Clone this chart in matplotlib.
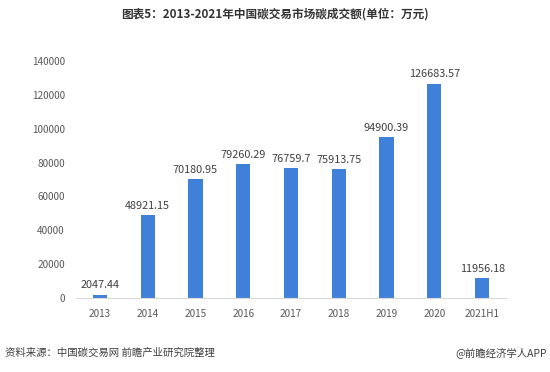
import matplotlib
matplotlib.use("Agg")
import matplotlib.pyplot as plt

plt.rcParams['font.family'] = ['Noto Sans CJK SC', 'DejaVu Sans']

categories = ["2013", "2014", "2015", "2016", "2017", "2018", "2019", "2020", "2021H1"]
values = [2047.44, 48921.15, 70180.95, 79260.29, 76759.7, 75913.75, 94900.39, 126683.57, 11956.18]
labels = ["2047.44", "48921.15", "70180.95", "79260.29", "76759.7", "75913.75", "94900.39", "126683.57", "11956.18"]
yticks = [0, 20000, 40000, 60000, 80000, 100000, 120000, 140000]

fig = plt.figure(figsize=(5.5, 3.72), dpi=100)
ax = fig.add_axes([76/550, 1-298/372, 430/550, 237/372])

x = range(len(categories))
ax.bar(x, values, width=0.3, color='#3f81d8')
for i, (v, t) in enumerate(zip(values, labels)):
    ax.text(i, v + 2500, t, ha='center', va='bottom', fontsize=7.8, color='#404040')

ax.set_xlim(-0.5, len(categories) - 0.5)
ax.set_ylim(0, 140000)
ax.set_yticks(yticks)
ax.set_yticklabels([str(t) for t in yticks], fontsize=7.2, color='#595959')
ax.set_xticks(list(x))
ax.set_xticklabels(categories, fontsize=7.2, color='#595959')
ax.tick_params(axis='both', length=0, pad=8)
for s in ['top', 'right', 'left']:
    ax.spines[s].set_visible(False)
ax.spines['bottom'].set_color('#d9d9d9')

fig.text(0.5, 1-14/372, "图表5：2013-2021年中国碳交易市场碳成交额(单位：万元)", ha='center', va='center',
         fontsize=8.4, fontweight='bold', color='#333333')
fig.text(5/550, 1-353/372, "资料来源：中国碳交易网 前瞻产业研究院整理", ha='left', va='center', fontsize=7.5, color='#404040')
fig.text(547/550, 1-353/372, "@前瞻经济学人APP", ha='right', va='center', fontsize=7.5, color='#404040')

fig.savefig("out.png", dpi=100, facecolor='white')
